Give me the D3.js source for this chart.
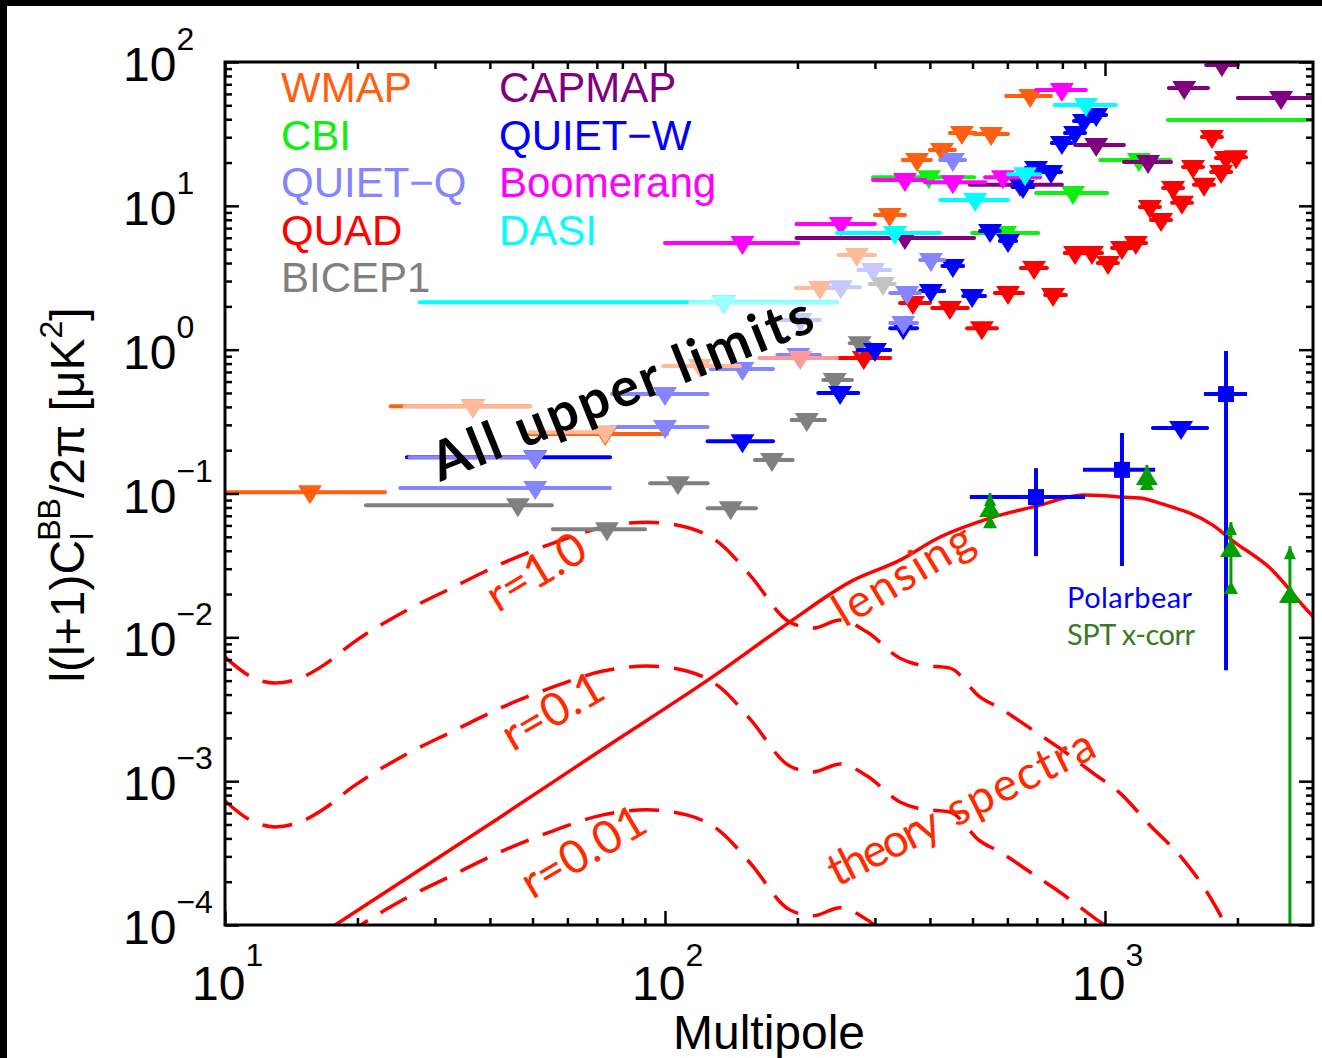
<!DOCTYPE html>
<html>
<head>
<meta charset="utf-8">
<script src="https://cdn.jsdelivr.net/npm/d3@7"></script>
<style>
  body { margin: 0; background: #fff; }
  svg { display: block; }
</style>
</head>
<body>
<div id="chart"></div>
<script>
// ---- Data (multipole l, upper limit in uK^2) ----
// Upper-limit rows: [lLow, lCentre, lHigh, limit]
const wmap = [
    [10, 15.6, 23.1, 0.102], [23.8, 36.6, 49.3, 0.405], [49.3, 73.1, 101, 0.259],
    [300, 324, 351, 8.63], [347, 374, 402, 20.8], [400, 426, 456, 24.4],
    [444, 473, 509, 32.1], [504, 551, 602, 31.6], [596, 676, 754, 58.0]
];
const wmapFaded = [
    [25.6, 36.6, 49.3, 0.405], [49.3, 73.1, 75.0, 0.267], [99, 120, 148, 0.769],
    [198.5, 225, 248, 2.68], [248, 273, 300, 4.55]
];
const cbi = [
    [297, 398, 504, 15.8], [499, 593, 705, 6.47], [697, 846, 1011, 12.3],
    [975, 1194, 1406, 20.8], [1390, 3400, 5000, 39.5]
];
const quietQ = [
    [25.0, 50.7, 75.0, 0.109], [26.3, 50.7, 51.2, 0.179], [75.8, 100, 125, 0.491],
    [75.8, 100, 125, 0.290], [127, 150, 176, 0.733], [180, 201, 225, 0.917],
    [325, 348, 374, 1.53], [325, 355, 380, 2.48], [380, 402, 431, 4.20],
    [422, 451, 481, 20.8]
];
const quietQFaded = [
    [175, 203, 225, 1.61], [235, 251, 277, 2.72], [275, 297, 325, 3.58]
];
const quad = [
    [246, 283, 325, 0.875], [342, 366, 400, 2.11], [405, 444, 488, 1.95],
    [486, 525, 568, 1.41], [562, 602, 651, 2.48], [644, 690, 738, 3.69],
    [731, 762, 815, 2.40], [810, 855, 900, 4.70], [885, 934, 985, 4.70],
    [963, 1016, 1070, 4.00], [1037, 1093, 1150, 5.09], [1115, 1175, 1240, 5.51],
    [1200, 1265, 1333, 9.8], [1272, 1341, 1413, 7.97], [1355, 1428, 1505, 13.3],
    [1420, 1496, 1577, 10.5], [1504, 1585, 1670, 18.6], [1593, 1679, 1769, 14.0],
    [1660, 1750, 1844, 30.1], [1742, 1836, 1935, 17.2], [1787, 1884, 1985, 21.5],
    [1883, 1985, 2092, 21.8]
];
const quadFaded = [[164, 203, 246, 0.875]];
const bicep1 = [
    [20.9, 46.3, 55.3, 0.083], [55.6, 73.8, 90.1, 0.0565], [92.5, 107, 125, 0.118],
    [125, 141, 161, 0.079], [160, 175, 195, 0.171], [194, 210, 231, 0.324],
    [229, 243, 266, 0.615], [263, 277, 292, 1.11]
];
const bicep1Faded = [[292, 313, 333, 2.86]];
const capmap = [
    [199, 351, 504, 5.97], [493, 641, 798, 14.0], [855, 955, 1104, 26.5],
    [1104, 1253, 1413, 20.2], [1397, 1514, 1714, 65.9], [1698, 1844, 2004, 95.3],
    [2004, 2513, 2938, 56.2]
];
const quietW = [
    [25.9, 50.7, 75.0, 0.179], [125, 150, 176, 0.231], [223, 250, 275, 0.499],
    [274, 300, 325, 0.993], [325, 348, 374, 1.41], [380, 402, 431, 2.56],
    [476, 499, 534, 2.36], [427, 451, 476, 3.81], [520, 548, 577, 6.68],
    [577, 602, 628, 5.69], [616, 651, 687, 13.5], [660, 697, 735, 18.3],
    [715, 754, 795, 17.2], [757, 798, 841, 27.3], [811, 855, 901, 32.1],
    [850, 896, 944, 38.9], [906, 955, 1006, 42.8]
];
const boomerang = [
    [100, 150, 201, 5.51], [199, 251, 300, 7.47], [297, 351, 390, 15.1],
    [390, 451, 534, 14.6], [534, 586, 712, 15.8], [697, 798, 905, 63.9]
];
const dasi = [
    [27.7, 136, 246, 2.14], [246, 333, 422, 6.47], [422, 507, 602, 11.0],
    [602, 658, 712, 16.6], [769, 905, 1059, 50.2]
];
const dasiFaded = [[114, 136, 246, 2.14]];

// Polarbear detections: [lLow, l, lHigh, value, valueLow, valueHigh]
const polarbear = [
    [493, 697, 901, 0.0944, 0.0367, 0.150],
    [891, 1093, 1300, 0.146, 0.0313, 0.263],
    [1679, 1884, 2103, 0.491, 0.00591, 0.977]
];
const polarbearLimit = [[1285, 1489, 1706, 0.285]];

// SPT x-corr: [l, value, valueLow, valueHigh]
const sptXcorr = [
    [548, 0.0767, 0.0574, 0.1007],
    [1245, 0.128, 0.1056, 0.158],
    [1933, 0.0404, 0.020, 0.0633],
    [2632, 0.0194, 1e-5, 0.043]
];

// Theory spectra: [l, D_l]
const lensing = [
    [10, 3.1e-5], [17.8, 1.0e-4], [42.2, 5.62e-4], [71.1, 1.62e-3], [133, 5.73e-3],
    [192, 0.01276], [263, 0.0242], [342, 0.0344], [422, 0.0498], [548, 0.0675],
    [697, 0.0817], [891, 0.0975], [1000, 0.0965], [1093, 0.0944], [1200, 0.093],
    [1355, 0.0843], [1758, 0.0603], [1954, 0.0467], [2371, 0.0303], [2877, 0.0155],
    [3000, 0.0135]
];
const tensorR1 = [
    [10, 7.28e-3], [11.4, 5.37e-3], [13.0, 4.81e-3], [14.8, 5.20e-3], [16.9, 6.51e-3],
    [19.5, 9.12e-3], [25.4, 0.01496], [33.0, 0.0223], [42.8, 0.0328], [55.7, 0.0452],
    [72.3, 0.0583], [91.0, 0.0632], [112, 0.0583], [133, 0.0452], [156, 0.0271],
    [192, 0.01276], [217, 0.01159], [250, 0.01318], [288, 0.01087], [342, 7.16e-3],
    [380, 6.41e-3], [444, 6.11e-3], [520, 3.84e-3], [577, 3.22e-3], [686, 2.26e-3],
    [790, 1.69e-3], [939, 1.14e-3], [1082, 8.26e-4], [1265, 4.94e-4], [1503, 2.87e-4],
    [1733, 1.56e-4], [1875, 1.0e-4], [1974, 6.68e-5]
];
const tensorR01 = [
    [10, 7.28e-4], [11.4, 5.37e-4], [13.0, 4.81e-4], [14.8, 5.20e-4], [16.9, 6.51e-4],
    [19.5, 9.12e-4], [25.4, 1.496e-3], [33.0, 2.23e-3], [42.8, 3.28e-3], [55.7, 4.52e-3],
    [72.3, 5.83e-3], [91.0, 6.32e-3], [112, 5.83e-3], [133, 4.52e-3], [156, 2.71e-3],
    [192, 1.276e-3], [217, 1.159e-3], [250, 1.318e-3], [288, 1.087e-3], [342, 7.16e-4],
    [380, 6.41e-4], [444, 6.11e-4], [520, 3.84e-4], [577, 3.22e-4], [686, 2.26e-4],
    [790, 1.69e-4], [939, 1.14e-4], [1082, 8.26e-5], [1265, 4.94e-5]
];
const tensorR001 = [
    [10, 7.28e-5], [11.4, 5.37e-5], [13.0, 4.81e-5], [14.8, 5.20e-5], [16.9, 6.51e-5],
    [19.5, 9.12e-5], [25.4, 1.496e-4], [33.0, 2.23e-4], [42.8, 3.28e-4], [55.7, 4.52e-4],
    [72.3, 5.83e-4], [91.0, 6.32e-4], [112, 5.83e-4], [133, 4.52e-4], [156, 2.71e-4],
    [192, 1.276e-4], [217, 1.159e-4], [250, 1.318e-4], [288, 1.087e-4], [342, 7.16e-5],
    [380, 6.41e-5]
];

// Axis ticks
const xMajor = [10, 100, 1000];
const xMinor = [20, 30, 40, 50, 60, 70, 80, 90, 200, 300, 400, 500, 600, 700, 800, 900, 2000];
const yMajor = [1e-4, 1e-3, 1e-2, 1e-1, 1, 10, 100];
const yMinor = [];
[1e-4, 1e-3, 1e-2, 1e-1, 1, 10].forEach(d => {
    for (let k = 2; k <= 9; k++) yMinor.push(d * k);
});
const xTickExp = ['1', '2', '3'];
const yTickExp = ['\u22124', '\u22123', '\u22122', '\u22121', '0', '1', '2'];

// ---- Layout ----
const W = 1322, H = 1058;
const box = { left: 225, top: 62, right: 1313, bottom: 925 };

const svg = d3.select('#chart')
    .append('svg')
    .attr('width', W)
    .attr('height', H)
    .style('font-family', '"Liberation Sans", Arial, sans-serif');

svg.append('rect').attr('width', W).attr('height', H).attr('fill', '#fff');
// black frame strips of the slide
svg.append('rect').attr('x', 0).attr('y', 0).attr('width', W).attr('height', 6).attr('fill', '#000');
svg.append('rect').attr('x', 0).attr('y', 0).attr('width', 7).attr('height', H).attr('fill', '#000');

const x = d3.scaleLog().domain([10, 2970]).range([box.left, box.right]);
const y = d3.scaleLog().domain([1e-4, 100]).range([box.bottom, box.top]);

svg.append('clipPath').attr('id', 'plotClip')
    .append('rect')
    .attr('x', box.left).attr('y', box.top)
    .attr('width', box.right - box.left).attr('height', box.bottom - box.top);

const plot = svg.append('g').attr('clip-path', 'url(#plotClip)');

// ---- Theory curves ----
const line = d3.line()
    .x(d => x(d[0]))
    .y(d => y(d[1]))
    .curve(d3.curveMonotoneX);

plot.append('path').datum(lensing)
    .attr('d', line).attr('fill', 'none')
    .attr('stroke', '#ff0000').attr('stroke-width', 3.5);

[tensorR1, tensorR01, tensorR001].forEach(curve => {
    plot.append('path').datum(curve)
        .attr('d', line).attr('fill', 'none')
        .attr('stroke', '#ff0000').attr('stroke-width', 3.5)
        .attr('stroke-dasharray', '30,15');
});

// ---- Upper limits ----
const downTri = 'M-12,-7L12,-7L0,12Z';

function drawLimits(rows, color) {
    const g = plot.append('g');
    g.selectAll('line')
        .data(rows)
        .enter()
        .append('line')
        .attr('x1', d => x(d[0]))
        .attr('x2', d => x(d[2]))
        .attr('y1', d => y(d[3]))
        .attr('y2', d => y(d[3]))
        .attr('stroke', color)
        .attr('stroke-width', 4)
        .attr('stroke-linecap', 'round');
    g.selectAll('path')
        .data(rows)
        .enter()
        .append('path')
        .attr('d', downTri)
        .attr('transform', d => `translate(${x(d[1])},${y(d[3])})`)
        .attr('fill', color);
}

const experiments = [
    { name: 'WMAP', rows: wmap, color: '#ff5f10' },
    { name: 'CBI', rows: cbi, color: '#11ee11' },
    { name: 'QUAD', rows: quad, color: '#ff0000' },
    { name: 'BICEP1', rows: bicep1, color: '#808080' },
    { name: 'CAPMAP', rows: capmap, color: '#800080' },
    { name: 'QUIET\u2212W', rows: quietW, color: '#0000ff' },
    { name: 'QUIET\u2212Q', rows: quietQ, color: '#8585ff' },
    { name: 'Boomerang', rows: boomerang, color: '#ff00ff' },
    { name: 'DASI', rows: dasi, color: '#00ffff' }
];
experiments.forEach(e => drawLimits(e.rows, e.color));

drawLimits(wmapFaded, '#ffbb99');
drawLimits(quietQFaded, '#c8c8ff');
drawLimits(bicep1Faded, '#c4c4c4');
drawLimits(quadFaded, '#ff9a9a');
drawLimits(dasiFaded, '#99ffff');

// ---- Polarbear ----
const pb = plot.append('g');
pb.selectAll('.pb-x').data(polarbear).enter().append('line')
    .attr('x1', d => x(d[0])).attr('x2', d => x(d[2]))
    .attr('y1', d => y(d[3])).attr('y2', d => y(d[3]))
    .attr('stroke', '#0000ff').attr('stroke-width', 4);
pb.selectAll('.pb-y').data(polarbear).enter().append('line')
    .attr('x1', d => x(d[1])).attr('x2', d => x(d[1]))
    .attr('y1', d => y(d[4])).attr('y2', d => y(d[5]))
    .attr('stroke', '#0000ff').attr('stroke-width', 4);
pb.selectAll('rect').data(polarbear).enter().append('rect')
    .attr('x', d => x(d[1]) - 8).attr('y', d => y(d[3]) - 8)
    .attr('width', 16).attr('height', 16)
    .attr('fill', '#0000ff');
drawLimits(polarbearLimit, '#0000ff');

// ---- SPT x-corr ----
const sptColor = '#00a000';
const spt = plot.append('g');
spt.selectAll('line').data(sptXcorr).enter().append('line')
    .attr('x1', d => x(d[0])).attr('x2', d => x(d[0]))
    .attr('y1', d => y(d[2])).attr('y2', d => y(d[3]))
    .attr('stroke', sptColor).attr('stroke-width', 3);
spt.selectAll('.tip').data(sptXcorr).enter().append('path')
    .attr('d', 'M-6,13L6,13L0,0Z')
    .attr('transform', d => `translate(${x(d[0])},${y(d[3])})`)
    .attr('fill', sptColor);
spt.selectAll('.foot').data(sptXcorr).enter().append('path')
    .attr('d', 'M-7,0L7,0L0,-13Z')
    .attr('transform', d => `translate(${x(d[0])},${y(d[2])})`)
    .attr('fill', sptColor);
spt.selectAll('.mark').data(sptXcorr).enter().append('path')
    .attr('d', 'M-11,7L11,7L0,-11Z')
    .attr('transform', d => `translate(${x(d[0])},${y(d[1])})`)
    .attr('fill', sptColor);

// ---- Axes ----
function tickStyle(g) {
    g.select('.domain').remove();
    g.selectAll('line').attr('stroke', '#000').attr('stroke-width', 2.5);
}
const axes = [
    [d3.axisBottom, `translate(0,${box.bottom})`, x, xMajor, xMinor],
    [d3.axisTop, `translate(0,${box.top})`, x, xMajor, xMinor],
    [d3.axisLeft, `translate(${box.left},0)`, y, yMajor, yMinor],
    [d3.axisRight, `translate(${box.right},0)`, y, yMajor, yMinor]
];
axes.forEach(([fn, tr, sc, major, minor]) => {
    svg.append('g').attr('transform', tr)
        .call(fn(sc).tickValues(major).tickSize(-14).tickFormat(''))
        .call(tickStyle);
    svg.append('g').attr('transform', tr)
        .call(fn(sc).tickValues(minor).tickSize(-7).tickFormat(''))
        .call(tickStyle);
});

svg.append('rect')
    .attr('x', box.left).attr('y', box.top)
    .attr('width', box.right - box.left).attr('height', box.bottom - box.top)
    .attr('fill', 'none').attr('stroke', '#000').attr('stroke-width', 3);

// tick labels 10^n
xMajor.forEach((v, i) => {
    const t = svg.append('text')
        .attr('x', x(v) - 33).attr('y', 1000)
        .style('font-size', '48px').text('10');
    t.append('tspan').attr('dy', -34).style('font-size', '32px').text(xTickExp[i]);
});
yMajor.forEach((v, i) => {
    const t = svg.append('text')
        .attr('x', 123).attr('y', y(v) + 19)
        .style('font-size', '48px').text('10');
    t.append('tspan').attr('dy', -31).style('font-size', '32px').text(yTickExp[i]);
});

svg.append('text')
    .attr('x', 769).attr('y', 1049)
    .attr('text-anchor', 'middle')
    .style('font-size', '48px')
    .text('Multipole');

const yl = svg.append('text')
    .attr('transform', 'translate(84,495) rotate(-90)')
    .attr('text-anchor', 'middle')
    .style('font-size', '48px')
    .text('l(l+1)C');
yl.append('tspan').attr('dy', 9).style('font-size', '32px').text('l');
yl.append('tspan').attr('dx', -8).attr('dy', -33).style('font-size', '32px').text('BB');
yl.append('tspan').attr('dy', 24).text('/2\u03c0 [\u03bcK');
yl.append('tspan').attr('dy', -22).style('font-size', '32px').text('2');
yl.append('tspan').attr('dy', 22).text(']');

// ---- Legend ----
const legendCols = [
    ['WMAP', 'CBI', 'QUIET\u2212Q', 'QUAD', 'BICEP1'],
    ['CAPMAP', 'QUIET\u2212W', 'Boomerang', 'DASI']
];
const legendX = [281, 499];
const colorOf = name => experiments.find(e => e.name === name).color;
legendCols.forEach((col, c) => {
    col.forEach((name, r) => {
        svg.append('text')
            .attr('x', legendX[c]).attr('y', 102 + r * 47.5)
            .style('font-size', '42px')
            .style('fill', colorOf(name))
            .text(name);
    });
});

// ---- Annotations ----
function note(txt, l, v, angle, size, len, color, weight) {
    svg.append('text')
        .attr('transform', `translate(${x(l)},${y(v)}) rotate(${angle})`)
        .attr('textLength', len)
        .attr('lengthAdjust', 'spacing')
        .style('font-family', 'Lato, "Open Sans", sans-serif')
        .style('font-size', size + 'px')
        .style('font-weight', weight || 'normal')
        .style('fill', color)
        .text(txt);
}
const theoryRed = '#ff2a00';
note('All upper limits', 30.8, 0.12, -22, 54, 407, '#000', 'bold');
note('r=1.0', 41.7, 0.01473, -31, 46, 108, theoryRed);
note('r=0.1', 45.1, 1.59e-3, -30, 46, 110, theoryRed);
note('r=0.01', 49.9, 1.49e-4, -30.5, 46, 137, theoryRed);
note('lensing', 256, 0.01159, -31, 46, 155, theoryRed);
note('theory', 246, 1.83e-4, -26.6, 46, 120, theoryRed);
note('spectra', 458, 4.79e-4, -26.6, 46, 160, theoryRed);
note('Polarbear', 820, 0.016, 0, 29, 125, '#0000ff');
note('SPT x-corr', 820, 8.83e-3, 0, 29, 128, '#3a7a22');
</script>
</body>
</html>
